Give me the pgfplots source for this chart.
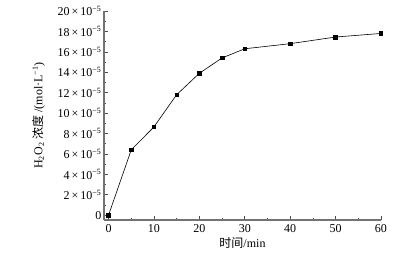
\documentclass[border=0pt]{standalone}
\usepackage{pgfplots}
\pgfplotsset{compat=1.18}
\usepackage{fontspec}
\setmainfont{Liberation Serif}
\newfontfamily\cjk{Noto Sans CJK SC}
\begin{document}
\begin{tikzpicture}
\begin{axis}[
  scale only axis, width=277pt, height=209pt,
  xmin=-1, xmax=60, ymin=-0.47, ymax=20,
  axis x line=bottom, axis y line=left,
  axis line style={-, draw=black!55, line width=1.1pt},
  tick style={black!70, line width=0.6pt},
  tick align=inside, major tick length=4pt, minor tick length=2pt,
  xtick={0,10,...,60}, minor x tick num=1,
  ytick={0,2,...,20}, minor y tick num=1,
  xticklabels={0,10,20,30,40,50,60},
  yticklabels={0,
    2\,×\,10\textsuperscript{−5},4\,×\,10\textsuperscript{−5},6\,×\,10\textsuperscript{−5},
    8\,×\,10\textsuperscript{−5},10\,×\,10\textsuperscript{−5},12\,×\,10\textsuperscript{−5},
    14\,×\,10\textsuperscript{−5},16\,×\,10\textsuperscript{−5},18\,×\,10\textsuperscript{−5},
    20\,×\,10\textsuperscript{−5}},
  tick label style={font=\fontsize{12}{14}\selectfont},
  yticklabel style={xshift=1pt},
  xticklabel style={yshift=-1pt},
  label style={font=\fontsize{12}{14}\selectfont},
  xlabel={{\cjk 时间}/min},
  ylabel={H\textsubscript{2}O\textsubscript{2} {\cjk 浓度} /(mol·L\textsuperscript{−1})},
  xlabel style={yshift=2pt},
  ylabel style={yshift=6pt},
]
\addplot[black, line width=0.6pt, mark=square*, mark size=1.8pt, mark options={solid, fill=black}]
  coordinates {(0,0) (5,6.4) (10,8.65) (15,11.8) (20,13.9) (25,15.4) (30,16.3) (40,16.8) (50,17.45) (60,17.8)};
\end{axis}
\pgfresetboundingbox
\useasboundingbox ([shift={(-104pt,-41pt)}]current axis.south west) rectangle ++(412pt,261pt);
\end{tikzpicture}
\end{document}
